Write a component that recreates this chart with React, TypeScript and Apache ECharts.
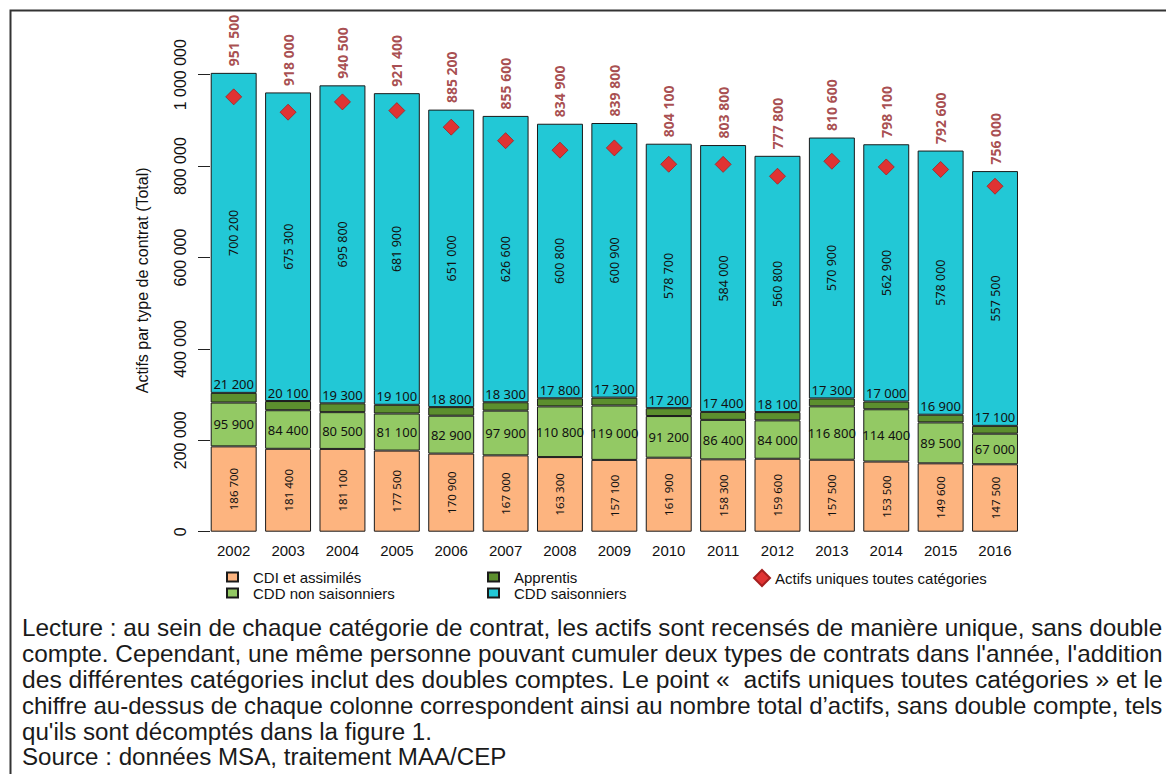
import React, { useEffect, useRef } from "react";
import * as echarts from "echarts";

const years = ["2002","2003","2004","2005","2006","2007","2008","2009","2010","2011","2012","2013","2014","2015","2016"];
const cdi = [186700,181400,181100,177500,170900,167000,163300,157100,161900,158300,159600,157500,153500,149600,147500];
const cddNonSaison = [95900,84400,80500,81100,82900,97900,110800,119000,91200,86400,84000,116800,114400,89500,67000];
const apprentis = [21200,20100,19300,19100,18800,18300,17800,17300,17200,17400,18100,17300,17000,16900,17100];
const cddSaison = [700200,675300,695800,681900,651000,626600,600800,600900,578700,584000,560800,570900,562900,578000,557500];
const actifsUniques = [951500,918000,940500,921400,885200,855600,834900,839800,804100,803800,777800,810600,798100,792600,756000];
const yTicks = [0,200000,400000,600000,800000,1000000];

const noteLines = [
  "Lecture : au sein de chaque catégorie de contrat, les actifs sont recensés de manière unique, sans double",
  "compte. Cependant, une même personne pouvant cumuler deux types de contrats dans l'année, l'addition",
  "des différentes catégories inclut des doubles comptes. Le point «  actifs uniques toutes catégories » et le",
  "chiffre au-dessus de chaque colonne correspondent ainsi au nombre total d’actifs, sans double compte, tels",
  "qu'ils sont décomptés dans la figure 1.",
  "Source : données MSA, traitement MAA/CEP",
];
const justifiedLines = 4;

const fmt = (v: number) => String(Math.round(v)).replace(/\B(?=(\d{3})+(?!\d))/g, " ");

const SANS = '"Liberation Sans", Arial, sans-serif';
const LBL = '"Noto Sans", "Open Sans", sans-serif';

export default function App() {
  const ref = useRef<HTMLDivElement>(null);
  useEffect(() => {
    if (!ref.current) return;
    const chart = echarts.init(ref.current, null, { renderer: "svg" });
    const totals = years.map((_, i) => cdi[i] + cddNonSaison[i] + apprentis[i] + cddSaison[i]);
    const border = { borderColor: "#1a1a1a", borderWidth: 1 };
    const gap = "15.5%";
    const legendText = { fontSize: 15, color: "#111", lineHeight: 16, fontFamily: SANS };

    // note text layout (justified paragraph)
    const noteFont = 23;
    const noteLeft = 22;
    const noteRight = 1163;
    const ctx = document.createElement("canvas").getContext("2d");
    if (ctx) ctx.font = `${noteFont}px "Liberation Sans", Arial, sans-serif`;
    const noteScale = (t: string, i: number) => {
      if (i >= justifiedLines || !ctx) return 1.05;
      const w = ctx.measureText(t).width;
      return w > 0 ? (noteRight - noteLeft) / w : 1.05;
    };

    const option: any = {
      animation: false,
      backgroundColor: "#ffffff",
      textStyle: { fontFamily: SANS },
      grid: { left: 206.5, right: 143.8, top: 29, bottom: 242.3, containLabel: false },
      xAxis: {
        type: "category",
        data: years,
        axisLine: { show: false },
        axisTick: { show: false },
        axisLabel: { fontSize: 15, color: "#111", margin: 11, fontFamily: SANS },
      },
      yAxis: {
        type: "value",
        min: 0,
        max: 1100000,
        interval: 200000,
        offset: -3.5,
        name: "Actifs par type de contrat (Total)",
        nameLocation: "middle",
        nameGap: 60,
        nameTextStyle: { fontSize: 16, color: "#111", fontFamily: SANS },
        axisLine: { show: false },
        splitLine: { show: false },
        axisTick: { show: true, length: 12, customValues: yTicks, lineStyle: { color: "#222" } },
        axisLabel: {
          customValues: yTicks,
          rotate: 90,
          margin: 22,
          fontSize: 16,
          color: "#111",
          fontFamily: SANS,
          formatter: (v: number) => fmt(v),
        },
      },
      legend: [
        {
          left: 226, top: 569, padding: 0, orient: "vertical", itemGap: 0, itemWidth: 11, itemHeight: 9,
          textStyle: { ...legendText, padding: [0, 0, 0, 10] },
          data: [{ name: "CDI et assimilés", icon: "rect" }, { name: "CDD non saisonniers", icon: "rect" }],
        },
        {
          left: 487, top: 569, padding: 0, orient: "vertical", itemGap: 0, itemWidth: 11, itemHeight: 9,
          textStyle: { ...legendText, padding: [0, 0, 0, 10] },
          data: [{ name: "Apprentis", icon: "rect" }, { name: "CDD saisonniers", icon: "rect" }],
        },
        {
          left: 753, top: 569, padding: 0, orient: "vertical", itemWidth: 16, itemHeight: 16,
          textStyle: legendText,
          data: [{ name: "Actifs uniques toutes catégories", icon: "diamond" }],
        },
      ],
      series: [
        {
          name: "CDI et assimilés", type: "bar", stack: "t", data: cdi, barCategoryGap: gap,
          itemStyle: { color: "#FDB47F", ...border },
          label: { show: true, position: "inside", rotate: 90, fontSize: 11.5, color: "#111", fontFamily: LBL, formatter: (p: any) => fmt(p.value) },
        },
        {
          name: "CDD non saisonniers", type: "bar", stack: "t", data: cddNonSaison, barCategoryGap: gap,
          itemStyle: { color: "#93C964", ...border },
          label: { show: true, position: "inside", fontSize: 13, color: "#111", fontFamily: LBL, formatter: (p: any) => fmt(p.value) },
        },
        {
          name: "Apprentis", type: "bar", stack: "t", data: apprentis, barCategoryGap: gap,
          itemStyle: { color: "#5C8F2E", ...border },
          label: { show: true, position: "top", distance: 2, fontSize: 13, color: "#111", fontFamily: LBL, formatter: (p: any) => fmt(p.value) },
        },
        {
          name: "CDD saisonniers", type: "bar", stack: "t", data: cddSaison, barCategoryGap: gap,
          itemStyle: { color: "#22C8D6", ...border },
          label: { show: true, position: "inside", rotate: 90, fontSize: 12.5, color: "#111", fontFamily: LBL, formatter: (p: any) => fmt(p.value) },
        },
        {
          name: "totaux", type: "scatter", data: totals, symbolSize: 1, z: 5,
          itemStyle: { color: "rgba(0,0,0,0)" },
          label: {
            show: true, position: "top", distance: 6, rotate: 90, align: "left", verticalAlign: "middle",
            fontSize: 14, fontWeight: "bold", color: "#921E23", fontFamily: LBL,
            formatter: (p: any) => fmt(actifsUniques[p.dataIndex]),
          },
          silent: true,
        },
        {
          name: "Actifs uniques toutes catégories", type: "scatter", data: actifsUniques, symbol: "diamond", symbolSize: 16, z: 6,
          itemStyle: { color: "#E03333", borderColor: "#A51F1F", borderWidth: 0.8, opacity: 1 },
        },
      ],
      graphic: [
        {
          type: "rect", silent: true, z: 100,
          shape: { x: 10.5, y: 10.5, width: 1300, height: 900 },
          style: { fill: "none", stroke: "#333", lineWidth: 2 },
        },
        ...noteLines.map((t, i) => ({
          type: "text", silent: true, z: 100,
          x: noteLeft, y: 628.5 + i * 25.8, scaleX: noteScale(t, i), scaleY: 1,
          style: { text: t, x: 0, y: 0, verticalAlign: "middle", fontSize: noteFont, fill: "#1a1a1a", fontFamily: SANS },
        })),
      ],
    };
    chart.setOption(option);
    return () => chart.dispose();
  }, []);
  return <div ref={ref} style={{ position: "absolute", left: 0, top: 0, width: 1166, height: 774, background: "#fff" }} />;
}
